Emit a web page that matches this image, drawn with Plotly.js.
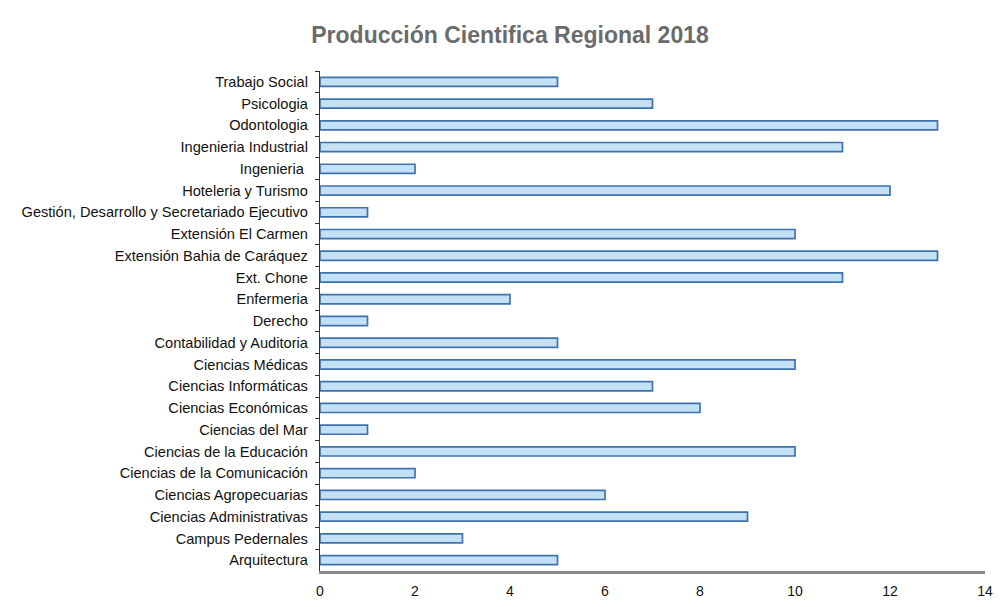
<!DOCTYPE html>
<html>
<head>
<meta charset="utf-8">
<script src="https://cdn.plot.ly/plotly-3.0.1.min.js"></script>
<style>html,body{margin:0;padding:0;background:#fff;}#chart{width:1004px;height:607px;}</style>
</head>
<body>
<div id="chart"></div>
<script>
const categories = [
  "Trabajo Social", "Psicologia", "Odontologia", "Ingenieria Industrial", "Ingenieria ",
  "Hoteleria y Turismo", "Gestión, Desarrollo y Secretariado Ejecutivo", "Extensión El Carmen",
  "Extensión Bahia de Caráquez", "Ext. Chone", "Enfermeria", "Derecho",
  "Contabilidad y Auditoria", "Ciencias Médicas", "Ciencias Informáticas", "Ciencias Económicas",
  "Ciencias del Mar", "Ciencias de la Educación", "Ciencias de la Comunicación",
  "Ciencias Agropecuarias", "Ciencias Administrativas", "Campus Pedernales", "Arquitectura"
];
const values = [5, 7, 13, 11, 2, 12, 1, 10, 13, 11, 4, 1, 5, 10, 7, 8, 1, 10, 2, 6, 9, 3, 5];
const xTicks = [0, 2, 4, 6, 8, 10, 12, 14];

const fontFam = "'Liberation Sans Narrow', 'Arial Narrow', 'Liberation Sans', Arial, sans-serif";

const trace = {
  type: 'bar',
  orientation: 'h',
  x: values,
  y: categories,
  marker: { color: '#c4e0f5', line: { color: '#3f72ad', width: 1.7 } },
  hoverinfo: 'x+y'
};

const layout = {
  width: 1004, height: 607,
  margin: { l: 320, r: 19, t: 71, b: 36 },
  paper_bgcolor: '#ffffff', plot_bgcolor: '#ffffff',
  title: { text: '<b>Producción Cientifica Regional 2018</b>', x: 0.508, xanchor: 'center', y: 0.943, yanchor: 'middle',
    font: { family: "'Liberation Sans', Arial, sans-serif", size: 23, color: '#6b6b6b' } },
  bargap: 0.58,
  showlegend: false,
  xaxis: {
    range: [0, 14], tickvals: xTicks, ticktext: xTicks.map(String),
    showgrid: false, zeroline: false,
    showline: true, linecolor: '#8a8a8a', linewidth: 3,
    ticks: '', ticklabelstandoff: 5,
    tickfont: { family: fontFam, size: 14, color: '#111' },
    fixedrange: true
  },
  yaxis: {
    type: 'category', autorange: 'reversed',
    showgrid: false, zeroline: false,
    showline: true, linecolor: '#333', linewidth: 1.2,
    ticks: 'outside', ticklen: 4, tickcolor: '#333', tickson: 'boundaries',
    ticklabelstandoff: 8,
    tickfont: { family: fontFam, size: 14.6, color: '#111' },
    fixedrange: true
  }
};

Plotly.newPlot('chart', [trace], layout, { displayModeBar: false, staticPlot: true });
</script>
</body>
</html>
